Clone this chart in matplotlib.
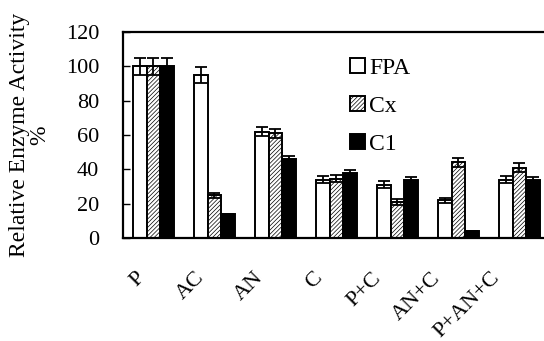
import matplotlib.pyplot as plt
import matplotlib.transforms as mtransforms
import numpy as np

plt.rcParams['font.family'] = ['Liberation Serif', 'DejaVu Serif']
plt.rcParams['hatch.color'] = '0.5'
plt.rcParams['hatch.linewidth'] = 0.5

groups = ['P', 'AC', 'AN', 'C', 'P+C', 'AN+C', 'P+AN+C']
fpa = [100, 95, 62, 34, 31, 22, 34]
fpa_err = [5, 4.5, 2.5, 2, 2, 1.5, 2]
cx = [100, 25, 61, 34.5, 21, 44, 41]
cx_err = [5, 1.5, 2.5, 2, 1.5, 2.5, 2.5]
c1 = [100, 14, 46, 38, 34, 4, 34]
c1_err = [5, 0, 1.5, 1.5, 1.5, 0, 1.5]

fig = plt.figure(figsize=(5.44, 3.41), dpi=100)
ax = fig.add_axes([0.226, 0.302, 0.785, 0.604])

x = np.arange(len(groups))
w = 0.223
err_kw = dict(ecolor='black', elinewidth=1.3, capsize=4.6, capthick=1.3)
ax.bar(x - w, fpa, w, yerr=fpa_err, color='white', edgecolor='black',
       linewidth=1.4, label='FPA', error_kw=err_kw)
ax.bar(x, cx, w, yerr=cx_err, color='white', edgecolor='black',
       linewidth=1.4, hatch='////////', label='Cx', error_kw=err_kw)
ax.bar(x + w, c1, w, yerr=c1_err, color='black', edgecolor='black',
       linewidth=1.4, label='C1', error_kw=err_kw)

ax.set_xlim(-0.5, 6.5)
ax.set_ylim(0, 120)
ax.set_yticks(range(0, 121, 20))
ax.tick_params(axis='y', direction='in', length=5, width=1, labelsize=16, pad=17)
ax.tick_params(axis='x', length=0, labelsize=16, pad=22)
ax.set_xticks(x)
ax.set_xticklabels(groups, rotation=45, ha='right', va='top',
                   rotation_mode='anchor')
# the rotated labels sit a little left of their groups, more so to the right
for i, lab in enumerate(ax.get_xticklabels()):
    shift = mtransforms.ScaledTranslation(-(0.18 + 0.019 * i), 0,
                                          fig.dpi_scale_trans)
    lab.set_transform(lab.get_transform() + shift)
for s in ax.spines.values():
    s.set_linewidth(1.6)

ax.set_ylabel('Relative Enzyme Activity\n%', fontsize=17, labelpad=11,
              linespacing=1.0)

ax.legend(loc='upper left', bbox_to_anchor=(350 / 544, 1 - 58 / 341),
          bbox_transform=fig.transFigure, frameon=False, fontsize=17,
          handlelength=0.62, handleheight=0.62, handletextpad=0.2,
          labelspacing=0.72, borderaxespad=0, borderpad=0)

fig.savefig('out.png', dpi=100)
